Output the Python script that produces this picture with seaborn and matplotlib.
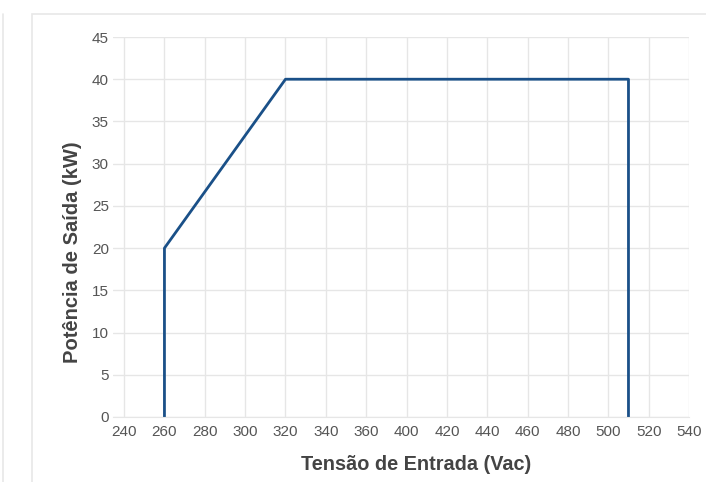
import matplotlib
matplotlib.use("Agg")
import numpy as np
import pandas as pd
import seaborn as sns
from matplotlib import pyplot as plt
from matplotlib.patches import Rectangle
from matplotlib.lines import Line2D

# curva de potencia
tensao = [260, 260, 320, 510, 510]
potencia = [0, 20, 40, 40, 0]
# eixo x do original pula o 380 (ticks igualmente espaçados)
x_ticks = [240, 260, 280, 300, 320, 340, 360, 400, 420, 440, 460, 480, 500, 520, 540]
y_ticks = [0, 5, 10, 15, 20, 25, 30, 35, 40, 45]

df = pd.DataFrame({"tensao": tensao, "potencia": potencia})

sns.set_style("white")
plt.rcParams['font.family'] = ['Liberation Sans', 'DejaVu Sans']

fig = plt.figure(figsize=(7.06, 4.82), dpi=100)
W, H = 706, 482

# moldura do card
fig.patches.append(Rectangle((32 / W, -0.1), 1.0, 1 - 14 / H + 0.1, transform=fig.transFigure,
                             fill=False, edgecolor="#e8e8e8", linewidth=1.2))
fig.lines.append(Line2D([2.5 / W, 2.5 / W], [0, 1 - 14 / H], transform=fig.transFigure,
                        color="#e8e8e8", linewidth=1.2))

ax = fig.add_axes([113 / W, 1 - 417 / H, (689 - 113) / W, (417 - 37) / H])

# escala por partes: 360 -> 400 ocupa um só passo
src = [200, 360, 400, 600]
dst = [200, 360, 380, 580]
ax.set_xscale("function", functions=(lambda v: np.interp(v, src, dst),
                                     lambda v: np.interp(v, dst, src)))

sns.lineplot(data=df, x="tensao", y="potencia", sort=False, estimator=None,
             color="#1a5088", linewidth=2, ax=ax)

ax.set_xlim(234.5, 540)
ax.set_ylim(0, 45)
ax.set_xticks(x_ticks)
ax.set_xticklabels([str(t) for t in x_ticks])
ax.set_yticks(y_ticks)
ax.grid(True, color="#e6e6e6", linewidth=1)
ax.set_axisbelow(True)
for s in ["top", "right", "left"]:
    ax.spines[s].set_visible(False)
ax.spines["bottom"].set_color("#e6e6e6")
ax.tick_params(axis="both", length=0, labelsize=11, labelcolor="#555555")
ax.tick_params(axis="x", pad=6)
ax.tick_params(axis="y", pad=3)

ax.set_xlabel("Tensão de Entrada (Vac)", fontsize=14.3, fontweight="bold", color="#444444")
ax.set_ylabel("Potência de Saída (kW)", fontsize=14.5, fontweight="bold", color="#444444")
ax.xaxis.set_label_coords(0.526, -0.100)
ax.yaxis.set_label_coords(-0.053, 0.433)

fig.savefig("out.png", dpi=100)
